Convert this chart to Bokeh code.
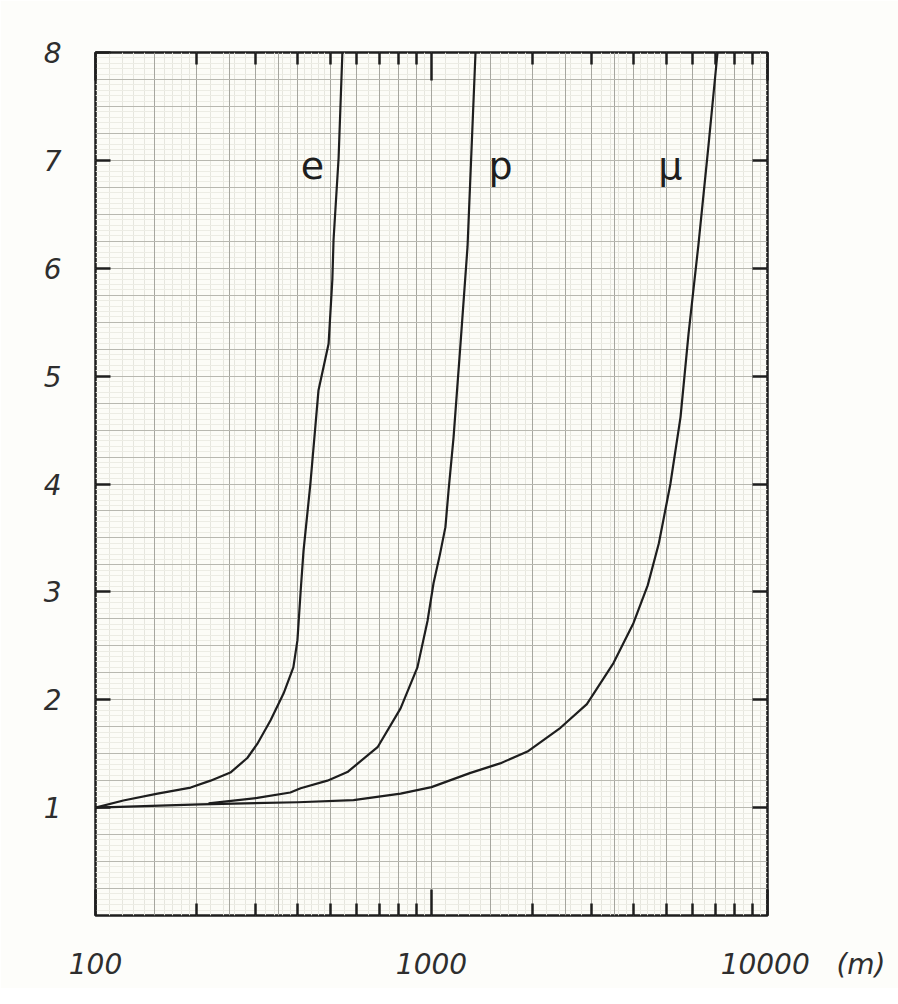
from bokeh.plotting import figure
from bokeh.models import (FixedTicker, LogAxis, LinearAxis, Grid)
from bokeh.core.properties import value
from bokeh.embed import file_html
from bokeh.resources import INLINE

# ---- data ----
e_x = [100, 121, 153, 192, 220, 252, 283, 303, 332, 363, 388, 399, 408, 416, 436, 461, 494, 507, 511, 529, 543]
e_y = [1.0, 1.066, 1.13, 1.186, 1.25, 1.325, 1.46, 1.59, 1.81, 2.06, 2.30, 2.55, 3.01, 3.38, 4.0, 4.87, 5.30, 5.9, 6.26, 7.02, 8.0]

p_x = [217, 303, 380, 408, 490, 562, 691, 809, 908, 973, 1014, 1060, 1100, 1124, 1163, 1220, 1280, 1352]
p_y = [1.04, 1.09, 1.14, 1.18, 1.25, 1.33, 1.56, 1.92, 2.30, 2.73, 3.08, 3.35, 3.60, 3.94, 4.43, 5.30, 6.2, 8.0]

mu_x = [100, 205, 400, 586, 809, 1000, 1300, 1600, 1930, 2420, 2900, 3480, 3990, 4400, 4750, 5140, 5510, 5820, 6230, 6680, 7100]
mu_y = [1.0, 1.03, 1.05, 1.07, 1.13, 1.19, 1.32, 1.41, 1.52, 1.74, 1.96, 2.34, 2.71, 3.06, 3.45, 4.0, 4.62, 5.39, 6.22, 7.15, 8.0]

curve_names = ["e", "p", "μ"]
name_x = [442, 1604, 5140]
name_y = [6.95, 6.95, 6.95]

x_major = [100, 1000, 10000]
x_minor = [200, 300, 400, 500, 600, 700, 800, 900,
           2000, 3000, 4000, 5000, 6000, 7000, 8000, 9000]
x_labels = ["100", "1000", "10000"]
unit_text = "(m)"
y_ticks = [1, 2, 3, 4, 5, 6, 7, 8]
y_right_ticks = [1, 2, 3, 4, 5, 6, 7]

# graph-paper lines
mid_mult = [1.5, 2, 2.5, 3, 3.5, 4, 5, 6, 7, 8, 9]
fine_mult = [1.1, 1.2, 1.3, 1.4, 1.6, 1.7, 1.8, 1.9, 2.2, 2.4, 2.6, 2.8,
             3.2, 3.4, 3.6, 3.8, 4.2, 4.4, 4.6, 4.8, 5.5, 6.5, 7.5, 8.5, 9.5]
x_mid_lines = [m * d for d in (100, 1000) for m in mid_mult] + [1000]
x_fine_lines = [m * d for d in (100, 1000) for m in fine_mult]
y_mid_lines = [i * 0.25 for i in range(1, 32)]
y_fine_lines = [round(i * 0.05, 2) for i in range(1, 160) if i % 5 != 0]

FONT = "DejaVu Sans"
INK = "#1e1e1e"
LABEL_INK = "#2e2e2e"
NB = "\u00a0"

p = figure(x_axis_type="log", x_range=(100, 10000), y_range=(0, 8),
           frame_width=672, frame_height=863,
           min_border_left=95, min_border_right=131,
           min_border_top=52, min_border_bottom=73,
           output_backend="svg", toolbar_location=None,
           background_fill_color="#fcfcf7", border_fill_color="#fdfdfa")

p.xgrid.visible = False
p.ygrid.visible = False

# fine grid
p.add_layout(Grid(dimension=0, ticker=FixedTicker(ticks=x_fine_lines),
                  grid_line_color="#e6e6de", grid_line_width=1))
p.add_layout(Grid(dimension=1, ticker=FixedTicker(ticks=y_fine_lines),
                  grid_line_color="#ececE4", grid_line_width=1))
# medium grid
p.add_layout(Grid(dimension=0, ticker=FixedTicker(ticks=x_mid_lines),
                  grid_line_color="#a6a69f", grid_line_width=1))
p.add_layout(Grid(dimension=1, ticker=FixedTicker(ticks=y_mid_lines),
                  grid_line_color="#b8b8b0", grid_line_width=1))

# curves
for xs, ys in ((e_x, e_y), (p_x, p_y), (mu_x, mu_y)):
    p.line(xs, ys, line_color=INK, line_width=2.2, line_join="round")

p.text(x=name_x, y=name_y, text=curve_names, text_font=value(FONT),
       text_font_size="38px", text_color=INK, text_align="center",
       text_baseline="alphabetic")

# frame
p.outline_line_color = INK
p.outline_line_width = 2.5
p.outline_line_alpha = 1.0

# bottom axis; the unit "(m)" rides on the last label, padded so that
# "10000" stays centred under its tick
last_label = NB * 8 + x_labels[2] + NB * 3 + unit_text
xa = p.xaxis[0]
xa.ticker = FixedTicker(ticks=x_major, minor_ticks=x_minor)
xa.major_label_overrides = {x_major[0]: x_labels[0], x_major[1]: x_labels[1],
                            x_major[2]: last_label}
xa.axis_line_color = None
xa.major_tick_in = 26
xa.major_tick_out = 0
xa.minor_tick_in = 12
xa.minor_tick_out = 0
xa.major_tick_line_color = INK
xa.minor_tick_line_color = INK
xa.major_tick_line_width = 2.5
xa.minor_tick_line_width = 2.5
xa.major_label_standoff = 32
xa.major_label_text_font = FONT
xa.major_label_text_font_style = "italic"
xa.major_label_text_font_size = "28px"
xa.major_label_text_color = LABEL_INK

# top axis
ta = LogAxis(ticker=FixedTicker(ticks=x_major, minor_ticks=x_minor),
             axis_line_color=None, major_tick_in=28, major_tick_out=0,
             minor_tick_in=12, minor_tick_out=0,
             major_tick_line_color=INK, minor_tick_line_color=INK,
             major_tick_line_width=2.5, minor_tick_line_width=2.5,
             major_label_text_font_size="0px", major_label_text_color=None)
p.add_layout(ta, "above")

# left axis
ya = p.yaxis[0]
ya.ticker = FixedTicker(ticks=y_ticks)
ya.axis_line_color = None
ya.major_tick_in = 15
ya.major_tick_out = 0
ya.minor_tick_line_color = None
ya.major_tick_line_color = INK
ya.major_tick_line_width = 2.5
ya.major_label_standoff = 34
ya.major_label_text_font = FONT
ya.major_label_text_font_style = "italic"
ya.major_label_text_font_size = "28px"
ya.major_label_text_color = LABEL_INK

# right axis
ra = LinearAxis(ticker=FixedTicker(ticks=y_right_ticks), axis_line_color=None,
                major_tick_in=15, major_tick_out=0,
                minor_tick_line_color=None,
                major_tick_line_color=INK, major_tick_line_width=2.5,
                major_label_text_font_size="0px", major_label_text_color=None)
p.add_layout(ra, "right")

open("out.html", "w").write(file_html(p, INLINE))
